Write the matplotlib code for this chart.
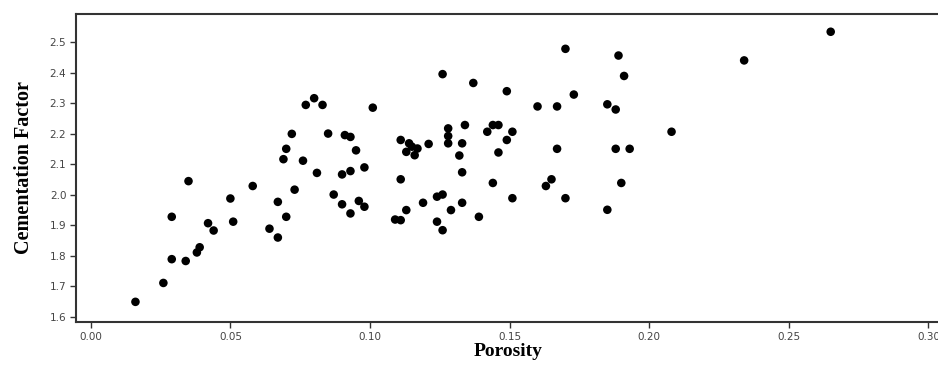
import matplotlib
matplotlib.use("Agg")
import matplotlib.pyplot as plt

# porosity / cementation factor pairs
porosity = [
    0.016, 0.026, 0.029, 0.029, 0.034, 0.035, 0.038, 0.039, 0.042, 0.044,
    0.050, 0.051, 0.058, 0.064, 0.067, 0.067, 0.069, 0.070, 0.070, 0.072,
    0.073, 0.076, 0.077, 0.080, 0.081, 0.083, 0.085, 0.087, 0.090, 0.090,
    0.091, 0.093, 0.093, 0.093, 0.095, 0.096, 0.098, 0.098, 0.101, 0.111,
    0.109, 0.111, 0.113, 0.111, 0.114, 0.113, 0.115, 0.116, 0.117, 0.121,
    0.119, 0.124, 0.126, 0.124, 0.126, 0.126, 0.128, 0.128, 0.128, 0.129,
    0.133, 0.132, 0.133, 0.133, 0.134, 0.137, 0.139, 0.142, 0.144, 0.144,
    0.146, 0.146, 0.149, 0.149, 0.151, 0.151, 0.160, 0.163, 0.165, 0.167,
    0.167, 0.170, 0.170, 0.173, 0.185, 0.185, 0.188, 0.189, 0.188, 0.190,
    0.191, 0.193, 0.208, 0.234, 0.265,
]
cementation = [
    1.649, 1.711, 1.928, 1.789, 1.783, 2.045, 1.811, 1.828, 1.907, 1.883,
    1.988, 1.912, 2.029, 1.889, 1.977, 1.860, 2.117, 1.928, 2.151, 2.200,
    2.017, 2.112, 2.295, 2.317, 2.072, 2.295, 2.201, 2.001, 1.969, 2.067,
    2.196, 2.190, 1.939, 2.078, 2.146, 1.980, 1.961, 2.090, 2.286, 2.051,
    1.919, 1.917, 1.950, 2.180, 2.169, 2.141, 2.158, 2.130, 2.152, 2.167,
    1.974, 1.994, 2.001, 1.912, 1.884, 2.396, 2.218, 2.193, 2.169, 1.950,
    2.169, 2.129, 2.074, 1.974, 2.229, 2.367, 1.928, 2.207, 2.039, 2.229,
    2.229, 2.139, 2.180, 2.340, 2.207, 1.989, 2.290, 2.029, 2.051, 2.290,
    2.151, 1.989, 2.479, 2.329, 1.951, 2.297, 2.280, 2.457, 2.151, 2.039,
    2.390, 2.151, 2.207, 2.441, 2.535,
]
xticks = [0.00, 0.05, 0.10, 0.15, 0.20, 0.25, 0.30]
yticks = [1.6, 1.7, 1.8, 1.9, 2.0, 2.1, 2.2, 2.3, 2.4, 2.5]

fig = plt.figure(figsize=(9.38, 3.72), dpi=100)
ax = fig.add_axes([0.081, 0.135, 0.921, 0.827])

ax.scatter(porosity, cementation, s=38, c='black', edgecolors='none', zorder=3)

ax.set_xlim(-0.0053, 0.3041)
ax.set_ylim(1.5836, 2.5928)
ax.set_xticks(xticks)
ax.set_xticklabels([f'{t:.2f}' for t in xticks])
ax.set_yticks(yticks)
ax.set_yticklabels([f'{t:.1f}' for t in yticks])
ax.tick_params(axis='both', direction='out', length=4, width=1, colors='#333333',
               labelsize=7.5, labelcolor='#444444', pad=3)

for side in ['left', 'bottom', 'top']:
    ax.spines[side].set_color('#333333')
    ax.spines[side].set_linewidth(1.5)
ax.spines['right'].set_visible(False)

ax.set_xlabel('Porosity', family='Liberation Serif', fontweight='bold',
              fontsize=14, labelpad=1)
ax.set_ylabel('Cementation Factor', family='Liberation Serif', fontweight='bold',
              fontsize=14.5, labelpad=11)

plt.savefig('out.png', dpi=100)
plt.close()
